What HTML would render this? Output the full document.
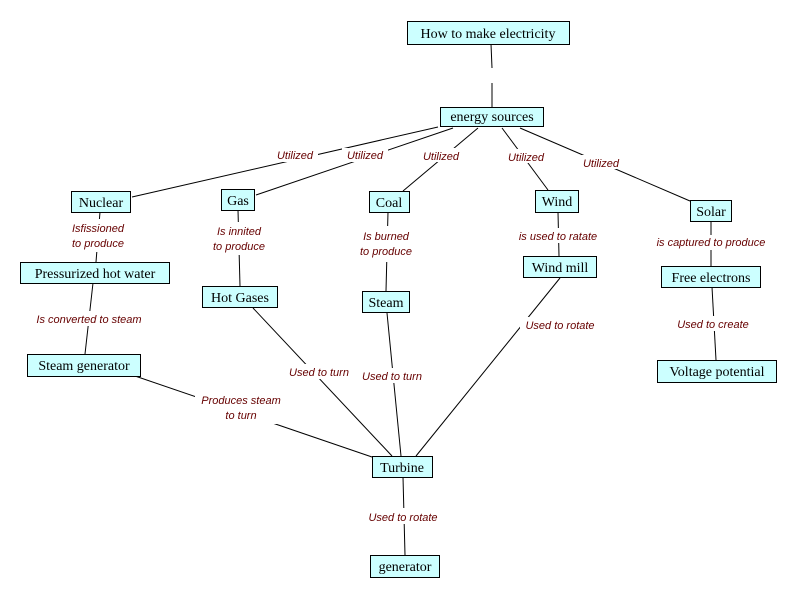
<!DOCTYPE html>
<html><head><meta charset="utf-8"><style>
html,body{margin:0;padding:0;background:#fff;}
svg{display:block}
.b{fill:#ccffff;stroke:#000;stroke-width:1}
.t{font-family:"Liberation Serif",serif;font-size:14px;fill:#000;text-anchor:middle}
.l{font-family:"Liberation Sans",sans-serif;font-size:11px;font-style:italic;fill:#660000;text-anchor:middle}
line{stroke:#000;stroke-width:1}
</style></head><body>
<svg width="797" height="599" viewBox="0 0 797 599" xmlns="http://www.w3.org/2000/svg">
<rect width="797" height="599" fill="#fff"/>
<g>
<line x1="491" y1="44" x2="492" y2="68"/><line x1="492" y1="83" x2="492" y2="107"/>
<line x1="438" y1="127" x2="132" y2="197"/>
<line x1="453" y1="128" x2="256" y2="195"/>
<line x1="478" y1="128" x2="403" y2="191"/>
<line x1="502" y1="128" x2="548" y2="190"/>
<line x1="520" y1="128" x2="690" y2="201"/>
<line x1="100" y1="212" x2="96" y2="262"/>
<line x1="238" y1="210" x2="240" y2="286"/>
<line x1="388" y1="212" x2="386" y2="291"/>
<line x1="558" y1="212" x2="559" y2="256"/>
<line x1="711" y1="221" x2="711" y2="266"/>
<line x1="712" y1="287" x2="716" y2="360"/>
<line x1="93" y1="283" x2="85" y2="354"/>
<line x1="253" y1="308" x2="392" y2="456"/>
<line x1="387" y1="313" x2="401" y2="456"/>
<line x1="560" y1="278" x2="416" y2="456"/>
<line x1="135" y1="376" x2="372" y2="457"/>
<line x1="403" y1="477" x2="405" y2="555"/>
</g>
<g>
<rect x="272" y="148" width="46" height="14" fill="#fff"/><text class="l" x="295" y="159">Utilized</text>
<rect x="342" y="148" width="46" height="14" fill="#fff"/><text class="l" x="365" y="159">Utilized</text>
<rect x="418" y="148" width="46" height="14" fill="#fff"/><text class="l" x="441" y="160">Utilized</text>
<rect x="503" y="149" width="46" height="14" fill="#fff"/><text class="l" x="526" y="161">Utilized</text>
<rect x="578" y="155" width="46" height="14" fill="#fff"/><text class="l" x="601" y="167">Utilized</text>
<rect x="66" y="219" width="64" height="33" fill="#fff"/><text class="l" x="98" y="232">Isfissioned</text><text class="l" x="98" y="247">to produce</text>
<rect x="207" y="222" width="64" height="33" fill="#fff"/><text class="l" x="239" y="235">Is innited</text><text class="l" x="239" y="250">to produce</text>
<rect x="355" y="226" width="64" height="36" fill="#fff"/><text class="l" x="386" y="240">Is burned</text><text class="l" x="386" y="255">to produce</text>
<rect x="512" y="228" width="92" height="15" fill="#fff"/><text class="l" x="558" y="240">is used to  ratate</text>
<rect x="651" y="235" width="120" height="15" fill="#fff"/><text class="l" x="711" y="246">is captured to produce</text>
<rect x="673" y="316" width="80" height="15" fill="#fff"/><text class="l" x="713" y="328">Used to create</text>
<rect x="30" y="311" width="118" height="15" fill="#fff"/><text class="l" x="89" y="323">Is converted to steam</text>
<rect x="285" y="364" width="68" height="15" fill="#fff"/><text class="l" x="319" y="376">Used to turn</text>
<rect x="358" y="368" width="68" height="15" fill="#fff"/><text class="l" x="392" y="380">Used to turn</text>
<rect x="520" y="317" width="80" height="15" fill="#fff"/><text class="l" x="560" y="329">Used to rotate</text>
<rect x="195" y="392" width="92" height="32" fill="#fff"/><text class="l" x="241" y="404">Produces steam</text><text class="l" x="241" y="419">to turn</text>
<rect x="363" y="508" width="80" height="16" fill="#fff"/><text class="l" x="403" y="521">Used to rotate</text>
</g>
<g>
<rect class="b" x="407.5" y="21.5" width="162" height="23"/><text class="t" x="488" y="38">How to make electricity</text>
<rect class="b" x="440.5" y="107.5" width="103" height="19"/><text class="t" x="492" y="121">energy sources</text>
<rect class="b" x="71.5" y="191.5" width="59" height="21"/><text class="t" x="101" y="207">Nuclear</text>
<rect class="b" x="221.5" y="189.5" width="33" height="21"/><text class="t" x="238" y="205">Gas</text>
<rect class="b" x="369.5" y="191.5" width="40" height="21"/><text class="t" x="389" y="207">Coal</text>
<rect class="b" x="535.5" y="190.5" width="43" height="22"/><text class="t" x="557" y="206">Wind</text>
<rect class="b" x="690.5" y="200.5" width="41" height="21"/><text class="t" x="711" y="216">Solar</text>
<rect class="b" x="20.5" y="262.5" width="149" height="21"/><text class="t" x="95" y="278">Pressurized hot  water</text>
<rect class="b" x="202.5" y="286.5" width="75" height="21"/><text class="t" x="240" y="302">Hot Gases</text>
<rect class="b" x="362.5" y="291.5" width="47" height="21"/><text class="t" x="386" y="307">Steam</text>
<rect class="b" x="523.5" y="256.5" width="73" height="21"/><text class="t" x="560" y="272">Wind mill</text>
<rect class="b" x="661.5" y="266.5" width="99" height="21"/><text class="t" x="711" y="282">Free electrons</text>
<rect class="b" x="27.5" y="354.5" width="113" height="22"/><text class="t" x="84" y="370">Steam generator</text>
<rect class="b" x="657.5" y="360.5" width="119" height="22"/><text class="t" x="717" y="376">Voltage potential</text>
<rect class="b" x="372.5" y="456.5" width="60" height="21"/><text class="t" x="402" y="472">Turbine</text>
<rect class="b" x="370.5" y="555.5" width="69" height="22"/><text class="t" x="405" y="571">generator</text>
</g>
</svg>
</body></html>
